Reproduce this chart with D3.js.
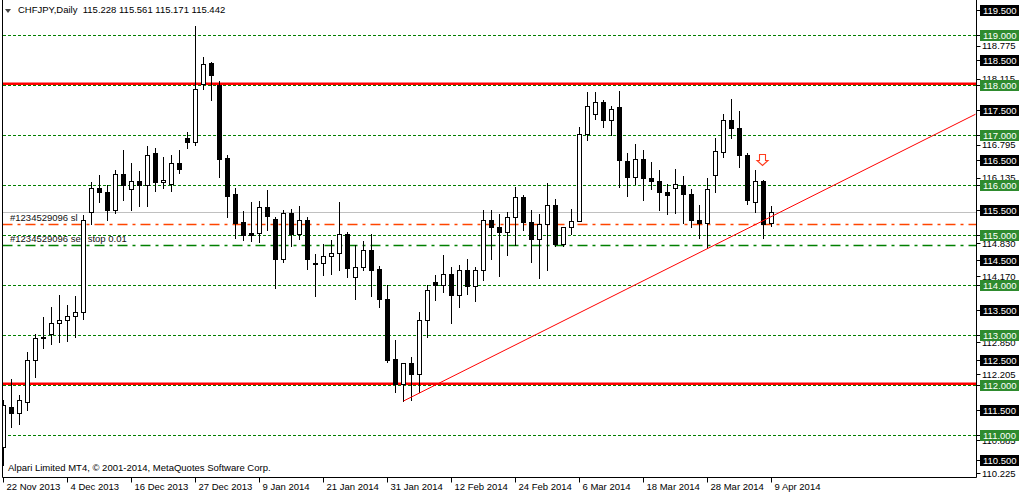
<!DOCTYPE html>
<html><head><meta charset="utf-8">
<script src="https://cdn.jsdelivr.net/npm/d3@7"></script>
<style>
body{margin:0;background:#fff;}
svg{display:block;font-family:"Liberation Sans",Arial,sans-serif;}
</style></head><body>
<svg id="c" width="1020" height="495"></svg>
<script>
// ---- data (bar index 0 = 22 Nov 2013, last = 9 Apr 2014) ----
const opens  = [110.75,111.54,111.44,111.66,112.50,112.94,113.02,113.24,113.30,113.38,
                113.46,115.46,115.94,115.84,115.50,116.21,115.90,116.06,115.99,116.62,
                116.04,116.02,116.44,116.93,116.86,118.02,118.43,117.98,116.53,115.81,
                115.25,115.03,115.03,115.54,115.32,114.52,115.43,115.02,115.29,114.44,
                114.42,114.56,114.62,115.02,114.14,114.36,114.69,114.31,113.72,112.51,
                112.01,112.42,112.20,113.28,114.05,113.98,114.21,113.78,114.30,113.97,
                114.29,115.30,115.15,115.05,115.35,115.75,115.25,114.90,115.20,115.60,
                114.82,115.15,115.26,117.02,117.40,117.64,117.28,117.54,116.47,116.16,
                116.52,116.13,116.07,115.84,115.92,116.00,115.82,115.30,115.24,116.18,
                116.66,117.28,117.12,116.60,115.65,116.06,115.228];
const highs  = [111.69,112.11,111.78,112.64,113.01,113.34,113.54,113.79,113.59,113.77,
                115.39,116.04,116.19,116.00,116.28,116.69,116.42,116.27,116.77,116.74,
                116.54,116.59,116.69,117.04,119.17,118.54,118.45,118.06,116.59,115.92,
                115.47,115.64,115.67,115.89,115.35,115.49,115.51,115.57,115.35,114.61,
                114.82,114.89,115.64,115.05,114.79,114.87,115.02,114.37,113.98,112.89,
                112.44,112.54,113.46,113.98,114.19,114.59,114.36,114.39,114.51,114.36,
                115.49,115.50,115.40,115.45,115.95,115.80,115.50,115.40,116.03,115.70,
                115.15,115.52,117.14,117.84,117.84,117.68,117.56,117.87,116.62,116.81,
                116.69,116.46,116.29,116.02,116.32,116.17,115.91,115.59,116.12,116.94,
                117.41,117.71,117.47,116.62,116.29,116.09,115.561];
const lows   = [110.39,111.16,111.20,111.49,112.16,112.74,112.81,112.84,112.88,112.96,
                113.31,115.21,115.66,115.30,115.44,115.69,115.49,115.56,115.56,115.88,
                115.94,115.88,116.24,116.74,116.80,117.90,117.68,116.14,115.36,114.94,
                114.89,114.88,114.84,115.09,113.94,114.46,114.76,114.90,114.32,113.76,
                114.18,114.20,114.28,114.14,113.70,114.30,113.76,113.54,112.46,111.84,
                111.67,111.68,111.86,112.96,113.69,113.84,113.24,113.54,113.81,113.67,
                114.09,114.52,114.17,114.60,114.80,115.10,114.46,114.12,114.28,114.76,
                114.76,115.02,115.26,116.89,117.31,117.16,116.99,115.96,115.76,116.01,
                115.68,115.91,115.49,115.41,115.42,115.24,115.16,114.92,114.74,115.84,
                116.54,116.92,116.34,115.61,115.46,114.94,115.171];
const closes = [111.59,111.44,111.68,112.50,112.94,112.95,113.24,113.30,113.38,113.46,
                115.30,115.92,115.84,115.49,116.21,116.00,116.06,115.98,116.60,116.04,
                116.09,116.42,116.32,116.86,117.91,118.41,118.18,116.52,115.76,115.24,
                115.00,115.00,115.54,115.38,114.52,115.42,115.02,115.28,114.52,114.42,
                114.56,114.62,115.02,114.33,114.36,114.69,114.30,113.72,112.48,112.01,
                112.42,112.20,113.29,113.89,113.98,114.21,113.80,114.30,113.97,114.29,
                115.30,115.15,115.05,115.35,115.75,115.25,114.90,115.20,115.60,114.82,
                115.15,115.26,117.02,117.57,117.64,117.28,117.52,116.48,116.14,116.52,
                116.12,116.06,115.84,115.79,116.02,115.82,115.29,115.24,115.90,116.67,
                117.28,117.12,116.60,115.68,116.06,115.22,115.442];
const tickIdx    = [0,8,16,24,32,40,48,56,64,72,80,88,96];
const tickLabels = ["22 Nov 2013","4 Dec 2013","16 Dec 2013","27 Dec 2013","9 Jan 2014","21 Jan 2014",
                    "31 Jan 2014","12 Feb 2014","24 Feb 2014","6 Mar 2014","18 Mar 2014","28 Mar 2014","9 Apr 2014"];
const gridLevels   = [111,112,113,114,115,116,117,118,119];
const redLevels    = [112,118];
const boxLevels    = [110.5,111,111.5,112,112.5,113,113.5,114,114.5,115,115.5,116,116.5,117,117.5,118,118.5,119,119.5];
const plainLevels  = [118.775,118.115,116.795,116.135,114.830,114.170,112.850,112.205,110.885,110.225];
const slLevel = 115.21, sellStopLevel = 114.80, bidLevel = 115.442;
const trendPts = [[50,111.67],[96,115.36]];
const arrowPt = [95,116.60];
const title = "CHFJPY,Daily  115.228 115.561 115.171 115.442";

// ---- layout ----
const L = 2.5, R = 976.5, B = 477.5;
const x = d3.scaleLinear().domain([0,121.5]).range([3.5,975.5]);
const y = d3.scaleLinear().domain([110.0,118.0]).range([484.5,84.5]);
const svg = d3.select("#c");
const crisp = v => Math.round(v) + 0.5;
const FS = 9.5;

const plot = svg.append("g");
plot.append("defs").append("clipPath").attr("id","pc").append("rect")
  .attr("x",L).attr("y",0).attr("width",R-L).attr("height",B);
const g = plot.append("g").attr("clip-path","url(#pc)");

// grid dashed lines
g.selectAll("line.grid").data(gridLevels).join("line")
  .attr("x1",L).attr("x2",R).attr("y1",d=>crisp(y(d))).attr("y2",d=>crisp(y(d)))
  .attr("stroke","#008000").attr("stroke-dasharray","3,2").attr("stroke-width",1)
  .attr("shape-rendering","crispEdges");
// bid line
g.append("line").attr("x1",L).attr("x2",R).attr("y1",crisp(y(bidLevel))).attr("y2",crisp(y(bidLevel)))
  .attr("stroke","#c0c0c0").attr("shape-rendering","crispEdges");
// sl line
g.append("line").attr("x1",L).attr("x2",R).attr("y1",crisp(y(slLevel))).attr("y2",crisp(y(slLevel)))
  .attr("stroke","#ff4500").attr("stroke-dasharray","10,5,3,5").attr("stroke-width",1.4);
// sell stop line
g.append("line").attr("x1",L).attr("x2",R).attr("y1",crisp(y(sellStopLevel))).attr("y2",crisp(y(sellStopLevel)))
  .attr("stroke","#008000").attr("stroke-dasharray","10,5,3,5").attr("stroke-width",1.5);
// red level lines
g.selectAll("line.red").data(redLevels).join("line")
  .attr("x1",L).attr("x2",R).attr("y1",d=>y(d)-0.8).attr("y2",d=>y(d)-0.8)
  .attr("stroke","#ff0000").attr("stroke-width",2.6);

// labels for order lines
g.append("text").attr("x",10).attr("y",y(slLevel)-3).attr("font-size",FS).attr("fill","#111")
  .text("#1234529096 sl");
g.append("text").attr("x",10).attr("y",y(sellStopLevel)-3).attr("font-size",FS).attr("fill","#111")
  .text("#1234529096 sell stop 0.01");

// candles
const bars = d3.range(opens.length).map(i=>({i,o:opens[i],h:highs[i],l:lows[i],c:closes[i]}));
const cg = g.append("g").attr("shape-rendering","crispEdges");
cg.selectAll("line.wick").data(bars).join("line")
  .attr("x1",d=>x(d.i)).attr("x2",d=>x(d.i))
  .attr("y1",d=>Math.round(y(d.h))).attr("y2",d=>Math.round(y(d.l))+1)
  .attr("stroke","#000");
cg.selectAll("rect.body").data(bars).join("rect")
  .attr("x",d=>x(d.i)-2)
  .attr("y",d=>crisp(y(Math.max(d.o,d.c))))
  .attr("width",4)
  .attr("height",d=>Math.max(1,crisp(y(Math.min(d.o,d.c)))-crisp(y(Math.max(d.o,d.c)))))
  .attr("fill",d=>d.c>=d.o?"#fff":"#000").attr("stroke","#000");

// trend line (ray to right edge)
const slope = (trendPts[1][1]-trendPts[0][1])/(trendPts[1][0]-trendPts[0][0]);
const xEnd = x.domain()[1];
g.append("line")
  .attr("x1",x(trendPts[0][0])).attr("y1",y(trendPts[0][1]))
  .attr("x2",x(xEnd)).attr("y2",y(trendPts[0][1]+slope*(xEnd-trendPts[0][0])))
  .attr("stroke","#ff0000").attr("stroke-width",1);

// sell arrow
const ax = x(arrowPt[0]) - 1, ay = y(arrowPt[1]);
g.append("path")
  .attr("d",`M${ax-3},${ay} L${ax+3},${ay} L${ax+3},${ay+6} L${ax+5.5},${ay+6} L${ax},${ay+11} L${ax-5.5},${ay+6} L${ax-3},${ay+6} Z`)
  .attr("fill","#fff").attr("stroke","#ff3c1e").attr("stroke-width",1.1);

// frame
svg.append("path").attr("d",`M${L},0 V${B} H${R} V0`).attr("fill","none").attr("stroke","#000");

// x ticks & labels
svg.selectAll("line.xt").data(tickIdx).join("line")
  .attr("x1",d=>x(d)).attr("x2",d=>x(d)).attr("y1",B).attr("y2",B+5).attr("stroke","#000");
svg.selectAll("text.xl").data(tickIdx).join("text")
  .attr("x",d=>x(d)+3).attr("y",B+12.5).attr("font-size",FS).attr("fill","#000")
  .text((d,k)=>tickLabels[k]);

// y axis: plain labels
const ya = svg.append("g");
ya.selectAll("line.yt").data(plainLevels.concat(boxLevels)).join("line")
  .attr("x1",R).attr("x2",R+4).attr("y1",d=>crisp(y(d))).attr("y2",d=>crisp(y(d))).attr("stroke","#000");
ya.selectAll("text.pl").data(plainLevels).join("text")
  .attr("x",982).attr("y",d=>y(d)+3.5).attr("font-size",FS).attr("fill","#000")
  .text(d=>d.toFixed(3));
const bx = ya.selectAll("g.bx").data(boxLevels).join("g");
bx.append("rect").attr("x",980).attr("y",d=>Math.round(y(d))-5).attr("width",39).attr("height",11)
  .attr("fill",d=>Number.isInteger(d)?"#2e8b2e":"#000");
bx.append("text").attr("x",983).attr("y",d=>Math.round(y(d))+3.5).attr("font-size",FS).attr("fill","#fff")
  .text(d=>d.toFixed(3));

// title
svg.append("path").attr("d","M5,9 L11,9 L8,13 Z").attr("fill","#444");
svg.append("text").attr("x",18).attr("y",13).attr("font-size",FS).attr("fill","#000").attr("xml:space","preserve")
  .text(title);
// copyright
svg.append("text").attr("x",8).attr("y",471).attr("font-size",FS).attr("fill","#000")
  .text("Alpari Limited MT4, © 2001-2014, MetaQuotes Software Corp.");
</script>
</body></html>
